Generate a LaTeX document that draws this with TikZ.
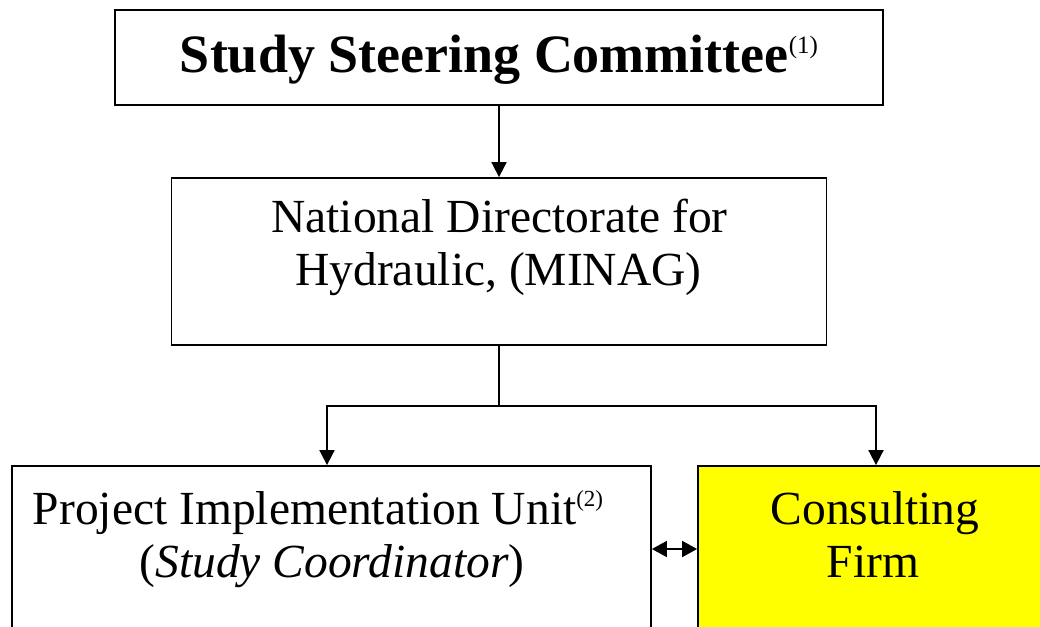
\documentclass[tikz,border=0pt]{standalone}
\usepackage{fontspec}
\setmainfont{Liberation Serif}
\usetikzlibrary{arrows.meta}
\tikzset{
  boxshape/.style={draw=black, line width=1.8pt, rectangle, inner sep=0pt, fill=white},
  txt/.style={anchor=base, inner sep=0pt, font=\fontsize{47.5}{53}\selectfont},
  arr/.style={line width=1.8pt, -{Triangle[length=15pt,width=15pt]}},
  arrb/.style={line width=1.8pt, {Triangle[length=15pt,width=16pt]}-{Triangle[length=15pt,width=16pt]}},
  plain/.style={line width=1.8pt}
}
\definecolor{cfyellow}{RGB}{255,255,0}
\begin{document}
\begin{tikzpicture}[x=1pt,y=-1pt]
\useasboundingbox (0,0) rectangle (1040,626);
\clip (0,0) rectangle (1040,626);
% boxes
\node[boxshape, minimum width=768pt, minimum height=95pt] (ssc) at (499,57.5) {};
\node[boxshape, minimum width=655pt, minimum height=167pt] (ndh) at (499,261.5) {};
\node[boxshape, minimum width=639pt, minimum height=236pt] (piu) at (331.5,584) {};
\node[boxshape, fill=cfyellow, minimum width=350pt, minimum height=236pt] (cf) at (873,584) {};
% texts
\node[txt, font=\fontsize{54}{60}\selectfont\bfseries] (t1) at (499,72) {Study Steering Committee{\fontsize{25}{25}\mdseries\selectfont\raisebox{18pt}{(1)}}};
\node[txt] (t2) at (499.5,232) {National Directorate for};
\node[txt] (t3) at (498.5,285) {Hydraulic, (MINAG)};
\node[txt] (t4) at (318,524) {Project Implementation Unit{\fontsize{23}{23}\selectfont\raisebox{18pt}{(2)}}};
\node[txt] (t5) at (332,577) {(\textit{Study Coordinator})};
\node[txt] (t6) at (875,524) {Consulting};
\node[txt] (t7) at (873,577) {Firm};
% connectors
\coordinate (j) at (499,406);
\coordinate (jl) at (327,406);
\coordinate (jr) at (876,406);
\draw[arr] (ssc.south) -- (ssc.south |- ndh.north);
\draw[plain] (ndh.south) -- (j);
\draw[plain, line cap=rect] (jl) -- (jr);
\draw[arr] (jl) -- (jl |- piu.north);
\draw[arr] (jr) -- (jr |- cf.north);
\draw[arrb] ([yshift=35pt]piu.east) -- ([yshift=35pt]cf.west);
\end{tikzpicture}
\end{document}
